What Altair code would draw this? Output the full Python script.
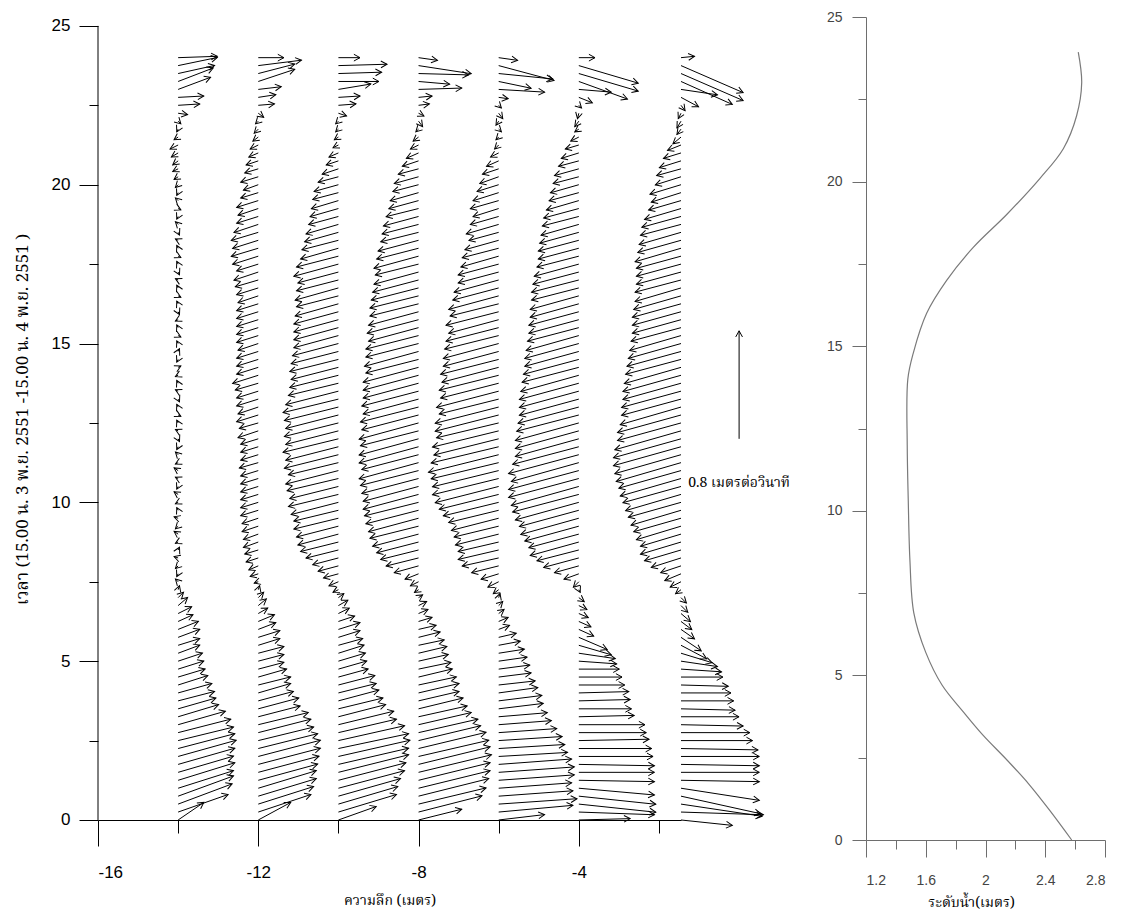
import math
import altair as alt
import pandas as pd

# ---------------- data ----------------
DEPTHS = [-14, -12, -10, -8, -6, -4, -1.45]   # metres (x position of each current profile)
TIME_STEP = 0.25                              # hours between vectors

# east (u) and north (v) current components, cm/s, one value per 15 min (t = 0 ... 24 h)
U1 = [19, 37, 40, 41, 41, 42, 41, 42, 43, 42, 41, 39, 35, 30, 28, 27, 25, 22, 20, 19,
      18, 16, 16, 16, 15, 11, 10, 7, 4, 1, -2, -1, -2, -3, 1, -2, -3, -2, -3, -1,
      -2, -3, -1, -2, -3, -2, -2, -1, 1, -2, -1, 2, -1, 1, -2, -1, -2, 2, -1, 1,
      -1, 2, -1, -2, 1, -1, 2, -1, -2, 1, -1, 2, -1, -2, 1, -2, -1, 2, -2, -1,
      -2, -3, -4, -4, -5, -6, -3, -1, 2, 7, 16, 19, 24, 26, 27, 29, 29]
V1 = [13, 13, 15, 15, 13, 13, 12, 12, 12, 11, 10, 10, 10, 9, 8, 7, 7, 7, 6, 6,
      6, 6, 5, 6, 6, 5, 5, 6, 4, 3, 2, -2, -2, 1, 2, -1, 2, -2, 1, 2,
      -1, 2, -2, 1, 2, -1, 2, -2, -2, 1, 2, -1, 2, -2, 1, 2, -1, 1, -2, 2,
      2, -1, 2, -1, -2, 2, -1, 2, 1, -2, 2, -1, 2, 1, -2, 2, -2, -1, 2, -2,
      -2, -2, -2, -3, -3, -3, -2, -2, -2, -1, 1, 1, 9, 10, 6, 6, 1]

U2 = [24, 39, 41, 43, 43, 44, 45, 46, 46, 44, 41, 39, 37, 31, 30, 26, 24, 24, 21, 19,
      19, 19, 16, 16, 13, 12, 7, 6, 4, 1, -3, -6, -7, -9, -10, -11, -11, -12, -12, -13,
      -13, -13, -13, -13, -13, -14, -13, -13, -13, -15, -14, -16, -15, -16, -16, -17, -19, -16, -16, -16,
      -15, -16, -16, -16, -16, -16, -15, -16, -17, -18, -16, -19, -20, -19, -20, -18, -16, -15, -16, -13,
      -11, -13, -10, -9, -7, -6, -4, -3, -2, 4, 12, 13, 17, 27, 27, 32, 19]
V2 = [13, 13, 13, 13, 13, 12, 12, 12, 12, 11, 10, 10, 9, 8, 8, 7, 7, 6, 6, 5,
      5, 5, 5, 5, 5, 5, 4, 5, 4, 3, -1, -2, -3, -3, -3, -4, -4, -4, -4, -4,
      -4, -4, -4, -4, -4, -4, -4, -4, -4, -5, -4, -5, -5, -5, -5, -5, -6, -5, -5, -5,
      -5, -5, -5, -5, -5, -5, -5, -5, -5, -6, -5, -6, -6, -6, -6, -6, -5, -5, -5, -4,
      -4, -4, -3, -3, -3, -3, -3, -3, -2, -3, 1, 2, 2, 9, 7, 4, 0]

U3 = [28, 43, 44, 46, 49, 50, 52, 52, 53, 52, 49, 43, 41, 35, 33, 30, 28, 27, 22, 21,
      20, 19, 18, 16, 16, 12, 8, 7, 4, -4, -7, -11, -15, -19, -24, -28, -30, -31, -33, -33,
      -35, -37, -36, -38, -39, -37, -40, -39, -41, -39, -40, -39, -40, -41, -39, -37, -36, -35, -36, -35,
      -34, -33, -33, -33, -33, -32, -31, -32, -31, -30, -33, -31, -28, -27, -25, -24, -22, -21, -20, -19,
      -18, -15, -12, -9, -7, -4, -3, -2, -2, 6, 13, 16, 24, 30, 32, 36, 16]
V3 = [10, 13, 13, 13, 13, 13, 13, 12, 12, 11, 11, 10, 10, 9, 8, 8, 7, 7, 6, 6,
      6, 6, 5, 5, 5, 4, 4, 4, 3, -2, -3, -3, -4, -5, -6, -7, -8, -8, -8, -8,
      -9, -9, -9, -9, -10, -9, -10, -10, -10, -10, -10, -10, -10, -10, -10, -9, -9, -9, -9, -9,
      -9, -9, -9, -9, -9, -9, -8, -9, -8, -8, -9, -8, -8, -7, -7, -7, -6, -6, -6, -5,
      -5, -4, -4, -3, -3, -2, -2, -2, -2, -2, 1, 1, 4, 0, 1, 1, 0]

U4 = [32, 47, 50, 52, 53, 53, 54, 53, 52, 50, 46, 44, 39, 36, 33, 30, 30, 28, 25, 24,
      22, 21, 19, 16, 13, 10, 7, 6, 3, -3, -6, -10, -18, -24, -28, -31, -34, -36, -37, -39,
      -40, -41, -41, -42, -43, -44, -42, -44, -44, -43, -44, -42, -43, -41, -42, -41, -41, -41, -39, -40,
      -39, -39, -37, -38, -37, -36, -36, -35, -34, -33, -32, -33, -31, -30, -28, -27, -26, -24, -22, -21,
      -19, -18, -15, -12, -9, -6, -4, -2, 3, 4, 8, 10, 32, 23, 37, 39, 14]
V4 = [8, 12, 12, 13, 13, 13, 13, 13, 12, 12, 11, 10, 9, 8, 8, 7, 7, 6, 6, 5,
      5, 5, 4, 4, 3, 3, 3, 3, 2, -2, -3, -4, -5, -6, -7, -8, -9, -9, -10, -10,
      -10, -11, -11, -11, -11, -12, -11, -12, -12, -11, -12, -11, -11, -11, -11, -11, -11, -11, -10, -11,
      -10, -10, -10, -10, -10, -9, -9, -9, -9, -9, -8, -9, -8, -8, -7, -7, -7, -6, -6, -6,
      -5, -5, -4, -4, -4, -3, -3, -2, -4, -2, 1, 1, 1, -2, -1, -6, -2]

U5 = [34, 55, 58, 55, 54, 56, 56, 54, 51, 49, 47, 43, 39, 36, 33, 32, 29, 27, 24, 23,
      21, 19, 16, 13, 8, 7, 4, 3, 1, -4, -8, -13, -20, -27, -30, -30, -32, -33, -35, -37,
      -41, -44, -47, -49, -49, -50, -52, -50, -48, -49, -46, -47, -47, -44, -46, -43, -44, -42, -43, -41,
      -41, -40, -39, -37, -39, -36, -37, -34, -33, -30, -30, -28, -27, -25, -22, -24, -21, -19, -21, -19,
      -16, -14, -12, -9, -6, -3, -2, 2, -2, 3, 2, 7, 34, 24, 40, 41, 14]
V5 = [4, 5, 4, 4, 4, 4, 4, 4, 3, 3, 3, 3, 3, 3, 4, 4, 4, 3, 3, 3,
      3, 3, 3, 3, 3, 3, 3, 3, 3, -3, -4, -4, -5, -6, -7, -7, -8, -8, -9, -9,
      -10, -11, -12, -12, -12, -12, -13, -12, -12, -12, -11, -12, -12, -11, -12, -11, -11, -11, -11, -11,
      -11, -10, -10, -10, -10, -9, -10, -9, -9, -8, -8, -8, -7, -7, -6, -7, -6, -6, -6, -6,
      -5, -5, -4, -4, -3, -3, -2, -2, -3, -4, -2, -1, -2, -5, -4, -11, -2]

U6 = [38, 56, 57, 57, 56, 56, 56, 56, 55, 54, 52, 50, 49, 41, 39, 38, 37, 34, 32, 30,
      28, 27, 24, 21, 11, 9, 7, 6, 4, 1, -4, -11, -18, -26, -31, -36, -37, -40, -43, -44,
      -47, -49, -50, -52, -52, -50, -52, -49, -47, -47, -47, -46, -45, -44, -44, -44, -43, -42, -41, -40,
      -40, -39, -38, -37, -37, -36, -36, -35, -35, -34, -33, -31, -30, -30, -29, -28, -27, -26, -24, -22,
      -21, -19, -18, -15, -13, -10, -6, -3, -3, -1, 2, 10, 24, 36, 44, 44, 12]
V6 = [1, -2, -6, -6, -5, -1, 0, -1, 0, 0, 1, 0, 0, 1, 0, 1, 1, 0, 0, 0,
      -2, -4, -7, -9, -5, -4, -3, -3, -3, -2, -4, -4, -5, -7, -8, -10, -10, -11, -12, -12,
      -13, -13, -14, -14, -14, -14, -14, -13, -13, -13, -13, -12, -12, -12, -12, -12, -12, -11, -11, -11,
      -11, -11, -10, -10, -10, -10, -10, -9, -9, -9, -9, -8, -8, -8, -8, -8, -7, -7, -7, -6,
      -6, -5, -5, -4, -4, -3, -3, -2, -4, -4, -2, -4, -2, -13, -13, -13, 0]

U7 = [38, 61, 60, 59, 58, 58, 58, 58, 58, 57, 53, 51, 46, 43, 40, 39, 37, 35, 31, 30,
      27, 23, 19, 15, 10, 8, 7, 5, 4, -4, -8, -12, -15, -22, -27, -30, -30, -33, -35, -37,
      -39, -41, -43, -45, -46, -48, -49, -50, -50, -49, -47, -47, -45, -44, -44, -43, -43, -42, -41, -40,
      -39, -38, -37, -36, -36, -36, -35, -34, -34, -33, -33, -33, -34, -32, -31, -30, -29, -27, -24, -22,
      -23, -19, -18, -16, -13, -10, -6, -3, -3, -2, 3, 13, 27, 38, 46, 46, 10]
V7 = [-4, -2, -9, -13, -9, -1, 0, -1, 0, -1, 0, 0, -1, 0, -1, 0, 0, -1, 0, -2,
      -4, -7, -10, -10, -7, -6, -6, -5, -4, -3, -4, -5, -5, -7, -8, -9, -9, -10, -10, -11,
      -11, -12, -12, -13, -13, -14, -14, -14, -14, -14, -13, -13, -13, -12, -12, -12, -12, -12, -11, -11,
      -11, -11, -10, -10, -10, -10, -10, -10, -9, -9, -9, -9, -10, -9, -9, -8, -8, -8, -7, -7,
      -7, -6, -5, -5, -4, -4, -5, -4, -5, -4, -4, -7, -4, -17, -20, -20, 1]

U_ALL = [U1, U2, U3, U4, U5, U6, U7]
V_ALL = [V1, V2, V3, V4, V5, V6, V7]

# reference vector
SCALE_X, SCALE_T, SCALE_SPEED = 0.0, 12.0, 0.8      # m/s
SCALE_LABEL = "0.8 เมตรต่อวินาที"
SCALE_LABEL_T = 10.6

# water level (right panel)
LEVEL_T = [0, 0.9, 1.7, 2.4, 3.2, 3.9, 4.7, 5.7, 6.9, 8.5, 10.3, 12.0, 14.0, 14.8,
           16.0, 17.0, 18.0, 19.0, 20.1, 21.0, 22.0, 23.0, 23.93]
LEVEL_H = [2.577, 2.43, 2.29, 2.15, 1.98, 1.85, 1.71, 1.60, 1.52, 1.494, 1.483, 1.476,
           1.48, 1.517, 1.606, 1.74, 1.918, 2.142, 2.365, 2.521, 2.61, 2.644, 2.621]

X_MAJOR = [-16, -12, -8, -4]
X_MINOR = [-14, -10, -6, -2]
Y_MAJOR = [0, 5, 10, 15, 20, 25]
Y_MINOR = [2.5, 7.5, 12.5, 17.5, 22.5]
RX_MAJOR = [1.2, 1.6, 2.0, 2.4, 2.8]
RX_MINOR = [1.4, 1.8, 2.2, 2.6]

# ---------------- layout ----------------
W_L, H = 583, 823
W_R = 239
X_DOM = [-16, -1.45]
Y_DOM_L = [-0.63, 25.28]
PX_PER_MS = 135.0
KX = PX_PER_MS * (X_DOM[1] - X_DOM[0]) / W_L
KY = PX_PER_MS * (Y_DOM_L[1] - Y_DOM_L[0]) / H

rows = []
for d, us, vs in zip(DEPTHS, U_ALL, V_ALL):
    assert len(us) == 97 and len(vs) == 97, (d, len(us), len(vs))
    for i, (u, v) in enumerate(zip(us, vs)):
        t = i * TIME_STEP
        rows.append(dict(x=d, y=t, x2=d + u / 100 * KX, y2=t + v / 100 * KY,
                         ang=math.degrees(math.atan2(-v, u)) % 360))
df = pd.DataFrame(rows)

sc = pd.DataFrame([dict(x=SCALE_X, y=SCALE_T, x2=SCALE_X, y2=SCALE_T + SCALE_SPEED * KY,
                        ang=270.0, ty=SCALE_LABEL_T, label=SCALE_LABEL)])
lev = pd.DataFrame(dict(t=LEVEL_T, h=LEVEL_H))
yaxis_line = pd.DataFrame([dict(x=X_DOM[0], y=min(Y_MAJOR), y2=max(Y_MAJOR))])

THAI = "Noto Serif Thai, Noto Sans Thai, Garuda, Loma, Tlwg Typo, Liberation Serif, serif"
SANS = "Liberation Sans, Arial, sans-serif"
CHEVRON = "M -1 -0.55 L 0 0 L -1 0.55"

xs = alt.Scale(domain=X_DOM, nice=False, zero=False)
ys = alt.Scale(domain=Y_DOM_L, nice=False, zero=False)

ax_common = dict(grid=False, tickColor="black", labelColor="black",
                 tickWidth=1, labelFont=SANS, labelFontSize=17)

x_major = alt.Axis(values=X_MAJOR, tickSize=26, offset=-20, orient="bottom",
                   labelExpr="'' + datum.value", labelPadding=18,
                   domainColor="black", domainWidth=1,
                   title="ความลึก (เมตร)", titleFont=THAI, titleFontSize=14,
                   titleFontWeight="normal", titlePadding=13, titleColor="black", **ax_common)
x_minor = alt.Axis(values=X_MINOR, tickSize=13, offset=-20, orient="bottom", labels=False,
                   domain=False, title=None, grid=False, tickColor="black", tickWidth=1)
y_major = alt.Axis(values=Y_MAJOR, tickSize=19, orient="left", labelPadding=9, domain=False,
                   title="เวลา (15.00 น. 3 พ.ย. 2551 -15.00 น. 4 พ.ย. 2551 )",
                   titleFont=THAI, titleFontSize=17, titleFontWeight="normal",
                   titleColor="black", titleX=-67, titleY=402, titleBaseline="bottom", **ax_common)
y_minor = alt.Axis(values=Y_MINOR, tickSize=9, orient="left", labels=False, domain=False,
                   title=None, grid=False, tickColor="black", tickWidth=1)

rules = alt.Chart(df).mark_rule(color="black", strokeWidth=1).encode(
    x=alt.X("x:Q", scale=xs, axis=x_major),
    y=alt.Y("y:Q", scale=ys, axis=y_major),
    x2="x2:Q", y2="y2:Q")
heads = alt.Chart(df).mark_point(shape=CHEVRON, size=150, filled=False, color="black",
                                 strokeWidth=1, opacity=1).encode(
    x=alt.X("x2:Q", scale=xs, axis=None),
    y=alt.Y("y2:Q", scale=ys, axis=None),
    angle=alt.Angle("ang:Q", scale=None))
minor_l = alt.Chart(df).mark_point(opacity=0).encode(
    x=alt.X("x:Q", scale=xs, axis=x_minor),
    y=alt.Y("y:Q", scale=ys, axis=y_minor))
y_line = alt.Chart(yaxis_line).mark_rule(color="black", strokeWidth=1).encode(
    x=alt.X("x:Q", scale=xs, axis=None), y=alt.Y("y:Q", scale=ys, axis=None), y2="y2:Q")
sc_rule = alt.Chart(sc).mark_rule(color="black", strokeWidth=1).encode(
    x=alt.X("x:Q", scale=xs, axis=None), y=alt.Y("y:Q", scale=ys, axis=None),
    x2="x2:Q", y2="y2:Q")
sc_head = alt.Chart(sc).mark_point(shape=CHEVRON, size=150, filled=False, color="black",
                                   strokeWidth=1, opacity=1).encode(
    x=alt.X("x2:Q", scale=xs, axis=None), y=alt.Y("y2:Q", scale=ys, axis=None),
    angle=alt.Angle("ang:Q", scale=None))
sc_text = alt.Chart(sc).mark_text(font=THAI, fontSize=14, color="black").encode(
    x=alt.X("x:Q", scale=xs, axis=None), y=alt.Y("ty:Q", scale=ys, axis=None),
    text="label:N")

left = alt.layer(rules, heads, minor_l, y_line, sc_rule, sc_head, sc_text).resolve_axis(
    x="independent", y="independent").properties(width=W_L, height=H)

# right panel
rxs = alt.Scale(domain=[1.2, 2.8], nice=False, zero=False)
rys = alt.Scale(domain=[0, 25], nice=False, zero=False)
GRAY = "#6e6e6e"
rax = dict(grid=False, domainColor=GRAY, tickColor=GRAY, labelColor="#444444",
           labelFont=SANS, labelFontSize=14)
rx_major = alt.Axis(values=RX_MAJOR, tickSize=17, orient="bottom", format="~g", labelPadding=16,
                    title="ระดับน้ำ(เมตร)", titleFont=THAI, titleFontSize=14,
                    titleFontWeight="normal", titleColor="black", titlePadding=8,
                    titleX=105, **rax)
rx_minor = alt.Axis(values=RX_MINOR, tickSize=9, orient="bottom", labels=False, domain=False,
                    title=None, grid=False, tickColor=GRAY)
ry_major = alt.Axis(values=Y_MAJOR, tickSize=14, orient="left", labelPadding=10, title=None, **rax)
ry_minor = alt.Axis(values=Y_MINOR, tickSize=8, orient="left", labels=False, domain=False,
                    title=None, grid=False, tickColor=GRAY)

line = alt.Chart(lev).mark_line(color="#7a7a7a", strokeWidth=1.2, interpolate="catmull-rom").encode(
    x=alt.X("h:Q", scale=rxs, axis=rx_major),
    y=alt.Y("t:Q", scale=rys, axis=ry_major),
    order="t:Q")
minor_r = alt.Chart(lev).mark_point(opacity=0).encode(
    x=alt.X("h:Q", scale=rxs, axis=rx_minor),
    y=alt.Y("t:Q", scale=rys, axis=ry_minor))
right = alt.layer(line, minor_r).resolve_axis(x="independent", y="independent").properties(
    width=W_R, height=H)

chart = alt.hconcat(left, right, spacing=185, bounds="flush").properties(
    padding={"left": 5, "top": 2, "right": 5, "bottom": 3}
).configure_view(stroke=None)

chart.save("out.html", embed_options={"renderer": "svg", "actions": False})
